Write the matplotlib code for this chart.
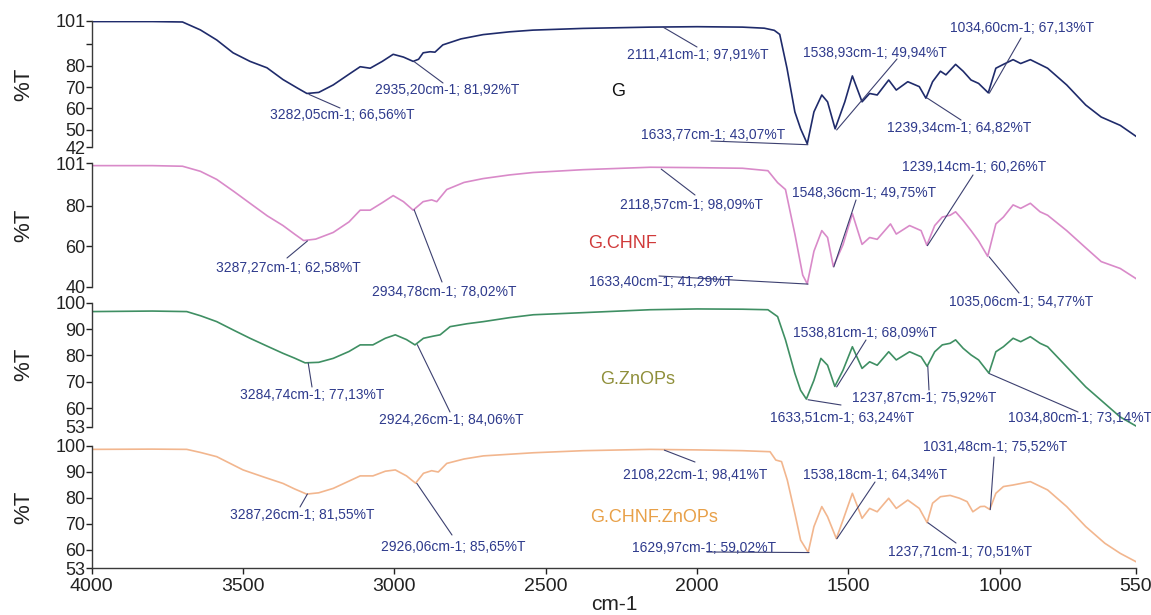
import matplotlib
matplotlib.use("Agg")
import matplotlib.pyplot as plt

plt.rcParams['font.family'] = ['Liberation Sans', 'DejaVu Sans']

W, H = 1151, 615

# ---------------- data ----------------
samples = ["G", "G.CHNF", "G.ZnOPs", "G.CHNF.ZnOPs"]

g_wn = [4000, 3800, 3700, 3641, 3587, 3533, 3477, 3421, 3368, 3320, 3289, 3250, 3202, 3150,
        3113, 3080, 3040, 3004, 2970, 2938, 2920, 2905, 2882, 2866, 2840, 2780, 2707, 2620,
        2542, 2377, 2155, 2000, 1850, 1778, 1745, 1727, 1703, 1677, 1658, 1636, 1614, 1588,
        1569, 1544, 1512, 1487, 1455, 1430, 1405, 1367, 1342, 1304, 1266, 1244, 1222, 1196,
        1178, 1146, 1121, 1095, 1070, 1038, 1013, 988, 956, 931, 899, 842, 779, 716, 665,
        602, 550]
g_t = [100.6, 100.6, 100.4, 96.7, 92.0, 86.0, 82.0, 79.0, 73.5, 69.5, 67.0, 67.5, 71.0, 76.0,
       79.5, 78.8, 82.0, 85.3, 84.0, 82.0, 83.0, 86.0, 86.5, 86.3, 89.7, 92.5, 94.5, 95.8,
       96.6, 97.4, 98.0, 98.2, 98.0, 97.5, 96.5, 94.6, 78.8, 58.4, 50.5, 43.5, 58.4, 66.3,
       63.1, 50.5, 63.1, 75.2, 63.1, 67.0, 66.3, 73.3, 68.6, 72.5, 70.2, 64.8, 72.5, 77.4,
       75.7, 80.6, 77.4, 73.3, 71.7, 67.3, 78.8, 80.6, 82.8, 81.0, 82.8, 78.8, 71.0, 61.6,
       56.0, 52.1, 47.0]

chnf_wn = [4000, 3800, 3700, 3641, 3587, 3530, 3477, 3420, 3368, 3330, 3300, 3260, 3202, 3150,
           3113, 3080, 3040, 3004, 2970, 2938, 2905, 2877, 2860, 2827, 2770, 2707, 2620, 2542,
           2377, 2155, 2000, 1850, 1766, 1734, 1708, 1677, 1651, 1636, 1614, 1588, 1569, 1550,
           1518, 1487, 1455, 1430, 1405, 1361, 1342, 1298, 1260, 1241, 1215, 1190, 1164, 1146,
           1121, 1095, 1070, 1040, 1013, 988, 956, 931, 899, 867, 842, 779, 716, 665, 602, 550]
chnf_t = [99.8, 99.8, 99.5, 97.0, 93.0, 87.0, 81.2, 75.0, 70.2, 66.0, 62.8, 63.5, 66.8, 72.0,
          77.8, 77.8, 81.5, 85.0, 82.0, 77.8, 82.0, 82.9, 82.0, 88.0, 91.5, 93.4, 95.2, 96.4,
          97.8, 99.0, 98.8, 98.5, 97.3, 91.4, 88.0, 66.0, 45.7, 41.4, 57.5, 67.7, 64.3, 50.0,
          60.7, 76.1, 60.9, 64.3, 63.4, 71.0, 66.0, 70.2, 67.7, 60.5, 70.2, 74.4, 75.3, 77.0,
          72.7, 67.7, 62.6, 55.0, 71.0, 74.4, 80.4, 78.7, 81.2, 77.0, 75.3, 67.7, 59.2, 52.4,
          49.0, 44.0]

zno_wn = [4000, 3800, 3686, 3640, 3587, 3530, 3477, 3420, 3368, 3330, 3295, 3250, 3202, 3150,
          3113, 3071, 3030, 2997, 2960, 2932, 2904, 2872, 2849, 2816, 2760, 2706, 2620, 2541,
          2376, 2156, 2000, 1850, 1766, 1734, 1708, 1677, 1658, 1639, 1614, 1591, 1569, 1545,
          1518, 1487, 1455, 1430, 1405, 1367, 1342, 1298, 1260, 1240, 1215, 1190, 1164, 1146,
          1121, 1095, 1070, 1036, 1013, 988, 956, 931, 899, 867, 842, 779, 716, 653, 602, 550]
zno_t = [96.6, 96.8, 96.6, 95.0, 92.8, 89.5, 86.5, 83.5, 80.8, 79.0, 77.2, 77.4, 78.9, 81.5,
         84.0, 84.0, 86.5, 87.8, 86.0, 84.0, 86.5, 87.3, 87.8, 90.9, 92.0, 92.8, 94.3, 95.4,
         96.2, 97.3, 97.6, 97.5, 97.3, 94.7, 85.9, 73.2, 66.8, 63.5, 70.6, 78.9, 76.3, 68.3,
         74.4, 83.3, 75.1, 77.6, 76.3, 81.4, 78.3, 81.4, 79.5, 75.9, 81.4, 84.0, 84.6, 85.9,
         82.7, 80.2, 78.3, 73.3, 81.4, 83.3, 86.5, 85.2, 87.1, 84.6, 83.3, 75.7, 68.1, 61.8,
         56.7, 53.3]

cz_wn = [4000, 3800, 3686, 3640, 3587, 3500, 3430, 3368, 3330, 3290, 3250, 3202, 3150, 3113,
         3071, 3030, 2997, 2960, 2930, 2904, 2877, 2855, 2827, 2770, 2706, 2541, 2376, 2156,
         2000, 1850, 1759, 1740, 1721, 1702, 1677, 1658, 1633, 1614, 1588, 1569, 1540, 1518,
         1487, 1455, 1430, 1405, 1367, 1342, 1304, 1266, 1240, 1222, 1196, 1164, 1133, 1108,
         1089, 1064, 1050, 1033, 1013, 988, 956, 899, 842, 779, 716, 653, 602, 550]
cz_t = [98.7, 98.8, 98.7, 97.5, 95.9, 90.8, 88.0, 85.6, 83.5, 81.5, 82.0, 83.7, 86.5, 88.5,
        88.5, 90.3, 90.8, 88.5, 85.7, 89.5, 90.5, 90.0, 93.3, 95.0, 96.2, 97.4, 98.2, 98.7,
        98.5, 98.2, 97.8, 94.6, 94.0, 86.9, 74.1, 63.8, 59.1, 69.0, 76.7, 72.8, 64.4, 71.5,
        81.8, 72.2, 76.0, 74.7, 79.9, 76.0, 79.2, 76.0, 70.5, 78.0, 80.5, 81.0, 79.9, 78.6,
        74.7, 76.7, 76.8, 75.6, 81.8, 84.4, 85.0, 86.3, 83.1, 76.7, 69.0, 62.6, 58.7, 55.5]

series_wn = [g_wn, chnf_wn, zno_wn, cz_wn]
series_t = [g_t, chnf_t, zno_t, cz_t]

# marked peaks (wavenumber, %T)
peak_wn = [
    [3282.05, 2935.20, 2111.41, 1633.77, 1538.93, 1239.34, 1034.60],
    [3287.27, 2934.78, 2118.57, 1633.40, 1548.36, 1239.14, 1035.06],
    [3284.74, 2924.26, 1633.51, 1538.81, 1237.87, 1034.80],
    [3287.26, 2926.06, 2108.22, 1629.97, 1538.18, 1237.71, 1031.48],
]
peak_t = [
    [66.56, 81.92, 97.91, 43.07, 49.94, 64.82, 67.13],
    [62.58, 78.02, 98.09, 41.29, 49.75, 60.26, 54.77],
    [77.13, 84.06, 63.24, 68.09, 75.92, 73.14],
    [81.55, 85.65, 98.41, 59.02, 64.34, 70.51, 75.52],
]

ylims = [(42, 101), (40, 101), (53, 100), (53, 100)]
yticks = [[101, 90, 80, 70, 60, 50, 42], [101, 80, 60, 40],
          [100, 90, 80, 70, 60, 53], [100, 90, 80, 70, 60, 53]]
yticklabels = [["101", "", "80", "70", "60", "50", "42"], ["101", "80", "60", "40"],
               ["100", "90", "80", "70", "60", "53"], ["100", "90", "80", "70", "60", "53"]]
xticks = [4000, 3500, 3000, 2500, 2000, 1500, 1000, 550]

# ---------------- layout / style ----------------
line_colors = ['#1f2b6b', '#d98ac9', '#3f8f63', '#f2b68e']
name_colors = ['#111111', '#d03a3a', '#8f8f3a', '#e8a048']
name_pos = [(611, 92), (588, 243), (600, 380), (590, 518)]  # image px (left, center)

# annotation text centers and leader-line ends in image pixels
text_pos = [
    [(342, 115), (447, 90), (698, 55), (713, 135), (875, 53), (959, 128), (1022, 28)],
    [(288, 268), (444, 292), (692, 205), (661, 282), (864, 193), (974, 167), (1021, 302)],
    [(312, 395), (451, 420), (842, 418), (865, 333), (924, 398), (1080, 418)],
    [(302, 515), (453, 547), (695, 475), (704, 548), (875, 475), (960, 552), (995, 447)],
]
line_end = [
    [(340, 108), (443, 83), (697, 47), (711, 141), (897, 59), (961, 120), (1021, 38)],
    [(287, 258), (442, 282), (695, 195), (659, 276), (856, 200), (973, 175), (1019, 293)],
    [(312, 387), (450, 412), (841, 405), (866, 340), (929, 390), (1078, 412)],
    [(300, 507), (452, 535), (695, 462), (707, 552), (875, 482), (956, 543), (994, 457)],
]

# axes rectangles (image px: top, bottom)
panel_px = [(20.7, 147.0), (163.2, 286.7), (302.6, 426.8), (446.0, 568.2)]
x_left, x_right = 91.7, 1136.0

spine_col = '#3a3a3a'
ann_text_col = '#2e3a8c'
ann_line_col = '#3c4070'

fig = plt.figure(figsize=(W / 100, H / 100), dpi=100)

for i in range(4):
    top, bot = panel_px[i]
    ax = fig.add_axes([x_left / W, 1 - bot / H, (x_right - x_left) / W, (bot - top) / H])
    ax.patch.set_alpha(0)
    ax.plot(series_wn[i], series_t[i], color=line_colors[i], lw=1.2)
    ax.set_xlim(4000, 550)
    ax.set_ylim(*ylims[i])
    ax.set_yticks(yticks[i])
    ax.set_yticklabels(yticklabels[i])
    for s in ['top', 'right']:
        ax.spines[s].set_visible(False)
    ax.spines['left'].set_color(spine_col)
    ax.spines['left'].set_linewidth(1.0)
    ax.tick_params(axis='y', direction='out', length=4, width=1, pad=0.5,
                   labelsize=13, colors='#222222')
    if i < 3:
        ax.spines['bottom'].set_visible(False)
        ax.set_xticks([])
    else:
        ax.spines['bottom'].set_color(spine_col)
        ax.spines['bottom'].set_linewidth(1.0)
        ax.set_xticks(xticks)
        ax.set_xticklabels([str(v) for v in xticks])
        ax.tick_params(axis='x', direction='out', length=4, width=1, pad=3,
                       labelsize=14, colors='#222222')
        ax.set_xlabel('cm-1', fontsize=15, labelpad=0, color='#222222')

    # %T label
    fig.text(24 / W, 1 - ((top + bot) / 2) / H, '%T', rotation=90,
             ha='center', va='center', fontsize=16, color='#222222')

    # sample name
    nx, ny = name_pos[i]
    fig.text(nx / W, 1 - ny / H, samples[i], ha='left', va='center',
             fontsize=13, color=name_colors[i])

    # peak annotations
    for j, (pw, pt) in enumerate(zip(peak_wn[i], peak_t[i])):
        label = (f"{pw:.2f}".replace('.', ',') + "cm-1; " +
                 f"{pt:.2f}".replace('.', ',') + "%T")
        lx, ly = line_end[i][j]
        ax.annotate('', xy=(pw, pt), xycoords='data',
                    xytext=(lx, H - ly), textcoords='figure pixels',
                    arrowprops=dict(arrowstyle='-', color=ann_line_col, lw=0.8,
                                    shrinkA=0, shrinkB=0),
                    annotation_clip=False)
        tx, ty = text_pos[i][j]
        fig.text(tx / W, 1 - ty / H, label, ha='center', va='center',
                 fontsize=10, color=ann_text_col)

fig.savefig('out.png', dpi=100)
